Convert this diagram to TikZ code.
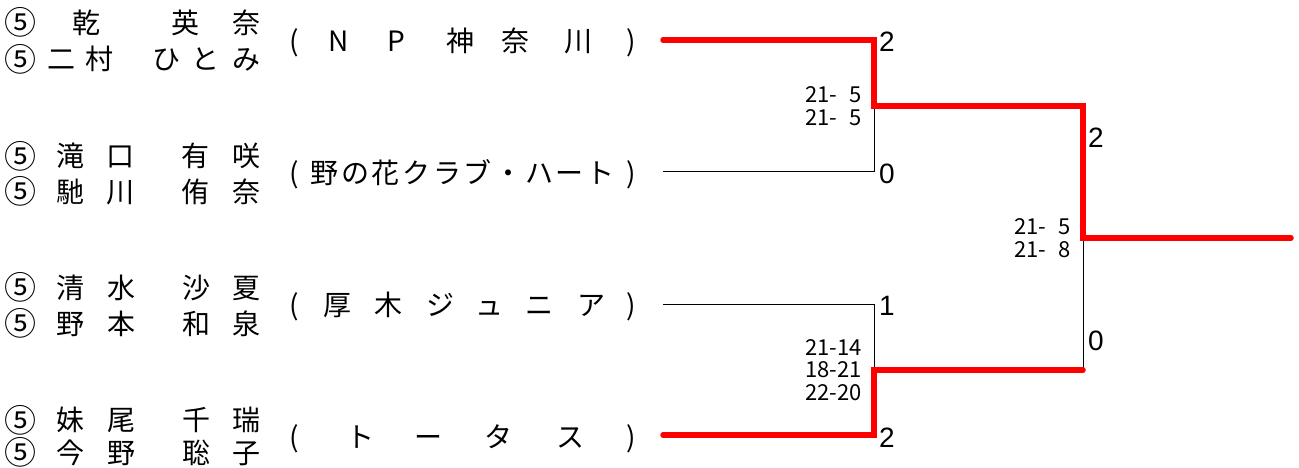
\documentclass[tikz,border=0pt]{standalone}
\usepackage{fontspec}
\usepackage{tikz}
\usetikzlibrary{positioning}
\newfontfamily\jp{Noto Sans CJK JP}
\newfontfamily\digits{Liberation Sans}
\definecolor{WinRed}{HTML}{FF0000}

\begin{document}
\begin{tikzpicture}[x=1pt, y=-1pt,
  glyph/.style={inner sep=0pt, text height=24.6pt, text depth=3.4pt, font=\jp\fontsize{28}{28}\selectfont},
  seed/.style={inner sep=0pt, text height=26.1pt, text depth=1.9pt, font=\jp\fontsize{32}{32}\selectfont},
  games/.style={anchor=base west, inner sep=0pt, font=\digits\fontsize{28}{28}\selectfont},
  sets/.style={anchor=east, inner sep=0pt, align=right, font=\jp\fontsize{22}{22.5}\selectfont},
  winner/.style={line width=5.5pt, WinRed, line cap=round},
  loser/.style={line width=1pt, black}]
\useasboundingbox (0,0) rectangle (1299,468);

% players
\foreach \yy [count=\i] in {22.5,59,156,191.5,287.5,323.5,420,452}
  \node[seed] (seed-\i) at (21,\yy) {⑤};
\foreach \cx/\ch [count=\i] in {86/乾,185/英,246/奈}
  \node[glyph] (pa-\i) at (\cx,22.5) {\ch};
\foreach \cx/\ch [count=\i] in {61.5/二,99/村,166.5/ひ,205/と,246/み}
  \node[glyph] (pb-\i) at (\cx,59) {\ch};
\foreach \cx/\ch [count=\i] in {70/滝,120/口,195/有,246/咲}
  \node[glyph] (pc-\i) at (\cx,156) {\ch};
\foreach \cx/\ch [count=\i] in {70/馳,120/川,195/侑,246/奈}
  \node[glyph] (pd-\i) at (\cx,191.5) {\ch};
\foreach \cx/\ch [count=\i] in {70/清,121/水,196/沙,246/夏}
  \node[glyph] (pe-\i) at (\cx,287.5) {\ch};
\foreach \cx/\ch [count=\i] in {70/野,121/本,196/和,246/泉}
  \node[glyph] (pf-\i) at (\cx,323.5) {\ch};
\foreach \cx/\ch [count=\i] in {70/妹,121/尾,196/千,246/瑞}
  \node[glyph] (pg-\i) at (\cx,420) {\ch};
\foreach \cx/\ch [count=\i] in {70/今,121/野,196/聡,246/子}
  \node[glyph] (ph-\i) at (\cx,452.5) {\ch};

% clubs
\foreach \cx/\ch [count=\i] in {294/{(},339/N,396/P,460/神,515/奈,578/川,631/{)}}
  \node[glyph] (ta-\i) at (\cx,41) {\ch};
\foreach \cx/\ch [count=\i] in {294/{(},324.6/野,355.3/の,385.9/花,416.5/ク,447.2/ラ,477.8/ブ,508.5/・,539.1/ハ,569.7/ー,600.4/ト,631/{)}}
  \node[glyph] (tb-\i) at (\cx,173) {\ch};
\foreach \cx/\ch [count=\i] in {294/{(},337/厚,388/木,440/ジ,489/ュ,539/ニ,591/ア,631/{)}}
  \node[glyph] (tc-\i) at (\cx,305) {\ch};
\foreach \cx/\ch [count=\i] in {294/{(},360/ト,428/ー,498/タ,570/ス,631/{)}}
  \node[glyph] (td-\i) at (\cx,437) {\ch};

% bracket
\coordinate (e1) at (663,40);
\coordinate (e2) at (663,172);
\coordinate (e3) at (663,304);
\coordinate (e4) at (663,435);
\coordinate (m1) at (874,106);
\coordinate (m2) at (874,370);
\coordinate (f) at (1083,238);
\coordinate (champ) at (1291,238);

\draw[loser] (e2) -| (m1);
\draw[loser] (e3) -| (m2);
\draw[loser] (m2) -| (f);
\draw[winner] (e1) -| (m1) -| (f) -- (champ);
\draw[winner] (e4) -| (m2) -- (m2 -| f);

% game scores
\node[games] (g1) at (879,52) {2};
\node[games] (g2) at (879,183) {0};
\node[games] (g3) at (879,315) {1};
\node[games] (g4) at (879,447) {2};
\node[games] (g5) at (1088,148) {2};
\node[games] (g6) at (1088,350) {0};

% set scores
\node[sets] (s1) at ([xshift=-12pt]m1) {21-\hphantom{0}5\\21-\hphantom{0}5};
\node[sets] (s2) at ([xshift=-12pt]m2) {21-14\\18-21\\22-20};
\node[sets] (s3) at ([xshift=-12pt]f) {21-\hphantom{0}5\\21-\hphantom{0}8};
\end{tikzpicture}
\end{document}
